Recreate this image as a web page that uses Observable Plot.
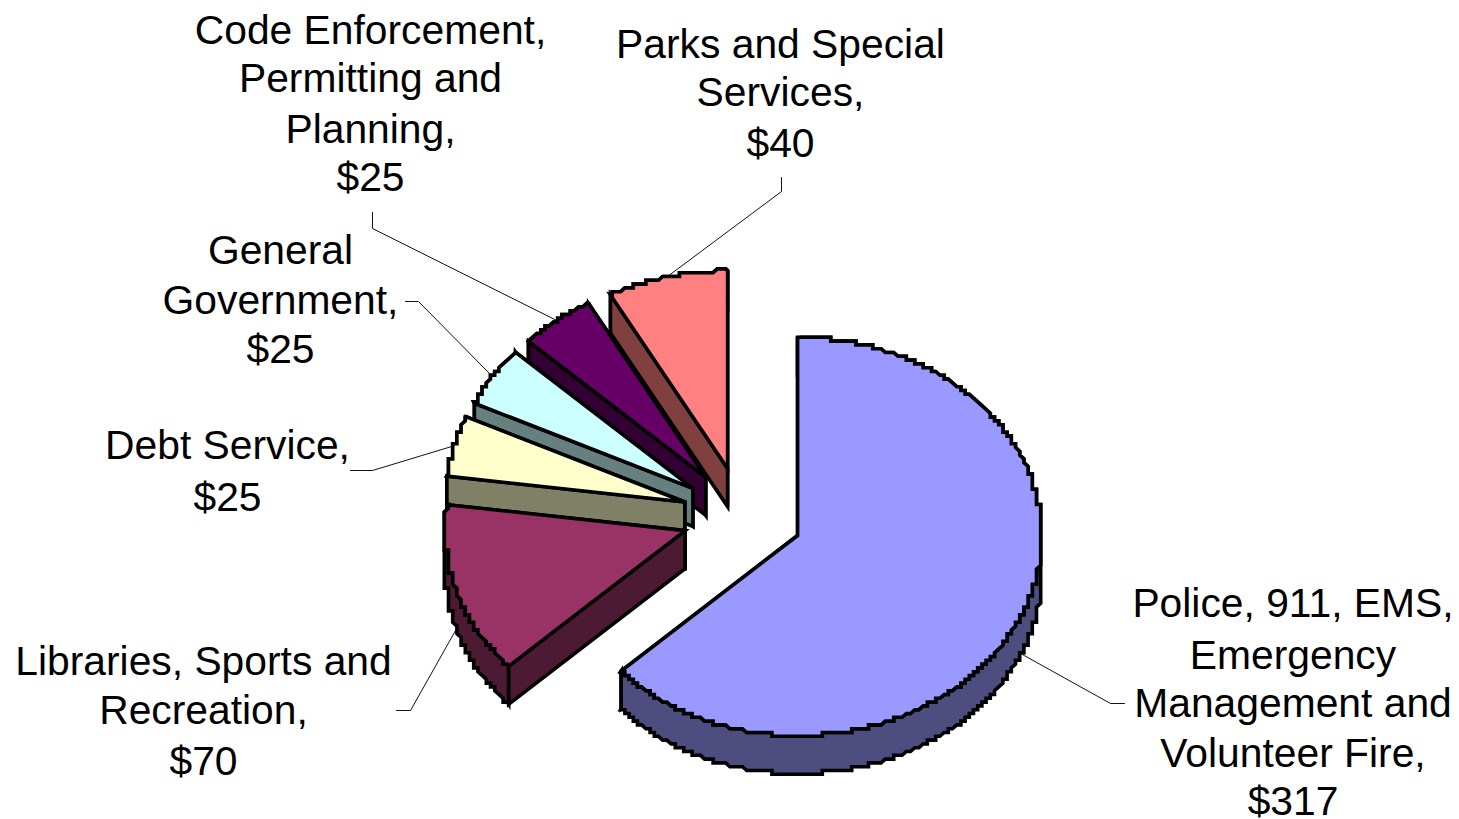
<!DOCTYPE html>
<html>
<head>
<meta charset="utf-8">
<title>Budget by service</title>
<script src="https://cdn.jsdelivr.net/npm/d3@7"></script>
<script src="https://cdn.jsdelivr.net/npm/@observablehq/plot@0.6"></script>
<style>
  html, body { margin: 0; padding: 0; background: #fff; }
  svg { display: block; }
</style>
</head>
<body>
<div id="chart"></div>
<script>
// Budget amounts, clockwise from twelve o'clock.
const categories = [
  "Police, 911, EMS, Emergency Management and Volunteer Fire",
  "Libraries, Sports and Recreation",
  "Debt Service",
  "General Government",
  "Code Enforcement, Permitting and Planning",
  "Parks and Special Services"
];
const values = [317, 70, 25, 25, 25, 40];
const labelLines = [
  ["Police, 911, EMS,", "Emergency", "Management and", "Volunteer Fire,"],
  ["Libraries, Sports and", "Recreation,"],
  ["Debt Service,"],
  ["General", "Government,"],
  ["Code Enforcement,", "Permitting and", "Planning,"],
  ["Parks and Special", "Services,"]
];
const topColors = ["#9999ff", "#993366", "#ffffcc", "#ccffff", "#660066", "#ff8080"];
const sideColors = ["#4d4d80", "#4d1a33", "#808066", "#668080", "#330033", "#804040"];

// Pie geometry, in units of the pie radius. The tilted view makes the near
// half of the ellipse a little taller and its lower left a little narrower.
const WIDTH = 1459, HEIGHT = 819;
const RX = 244, RY = 198, CX = 742, CY = 515.4;
const LEFT_SCALE = 240 / 244, FRONT_SCALE = 200 / 198;
const EXPLODE = 0.2465, DEPTH = 0.192;
const SNAP_X = 4.2 / RX, SNAP_Y = 3.8 / RY;

// Pixel placement helpers for the text layout.
const ux = (px) => (px - CX) / RX;
const uy = (py) => (CY - py) / RY;

// Unit-circle point at a clockwise angle from twelve o'clock.
function circleX(a) {
  const s = Math.sin(a);
  if (s >= 0) return s;
  const blend = Math.min(1, Math.max(0, (0.68 - Math.cos(a)) / 0.5));
  return s * (1 + (LEFT_SCALE - 1) * blend);
}
const circleY = (a) => Math.cos(a) * (Math.cos(a) < 0 ? FRONT_SCALE : 1);

// Label block layout: centre x, line baselines, and leader start/elbow.
const labelLayout = [
  {cx: 1292.5, base: [616, 668, 716, 766, 814], lead: [[1124, 703], [1110, 703]]},
  {cx: 203, base: [674, 723, 774], lead: [[396, 710], [410, 710]]},
  {cx: 227, base: [458, 510], lead: [[350, 470], [372, 470]]},
  {cx: 280, base: [263, 313, 362], lead: [[405, 301], [418, 301]]},
  {cx: 370, base: [43, 91, 142, 190], lead: [[372, 212], [372, 228]]},
  {cx: 780, base: [57, 105, 156], lead: [[781, 177], [781, 191]]}
];

const total = d3.sum(values);
let cumulative = 0;
const slices = values.map((v, i) => {
  const start = cumulative / total * 2 * Math.PI;
  cumulative += v;
  const end = cumulative / total * 2 * Math.PI;
  const mid = (start + end) / 2;
  return {
    i, start, end, mid,
    tipX: EXPLODE * Math.sin(mid),
    tipY: EXPLODE * Math.cos(mid)
  };
});

// Rim of one slice; the low-resolution staircase of the outline comes from the snapping.
function rim(s, drop = 0) {
  const n = Math.ceil((s.end - s.start) / (0.5 * Math.PI / 180));
  const pts = [];
  for (let k = 0; k <= n; k++) {
    const a = s.start + (s.end - s.start) * k / n;
    let x = s.tipX + circleX(a);
    let y = s.tipY + circleY(a);
    if (k > 0 && k < n) {
      x = Math.round(x / SNAP_X) * SNAP_X;
      y = Math.round(y / SNAP_Y) * SNAP_Y;
    }
    pts.push([x, y - drop]);
  }
  return pts;
}

function wall(s, angle) {
  const ex = s.tipX + circleX(angle), ey = s.tipY + circleY(angle);
  return [[s.tipX, s.tipY], [ex, ey], [ex, ey - DEPTH], [s.tipX, s.tipY - DEPTH]];
}

// Faces painted from the back of the pie to the front.
const faces = [];
function addFace(id, color, pts) {
  pts.forEach(([x, y]) => faces.push({id, color, x, y}));
}
[5, 4, 3, 2, 1, 0].forEach((i) => {
  const s = slices[i];
  addFace(`end-${i}`, sideColors[i], wall(s, s.end));
  addFace(`rim-${i}`, sideColors[i], [...rim(s), ...rim(s, DEPTH).reverse()]);
  addFace(`start-${i}`, sideColors[i], wall(s, s.start));
  addFace(`top-${i}`, topColors[i], [[s.tipX, s.tipY], ...rim(s)]);
});

// Leader lines end on the outer rim at the middle of each slice.
const leaders = [];
slices.forEach((s, i) => {
  const x = s.tipX + circleX(s.mid);
  const front = Math.cos(s.mid) < 0;
  const y = s.tipY + circleY(s.mid) - (front ? DEPTH : 0);
  const [a, b] = labelLayout[i].lead;
  leaders.push({id: i, x: ux(a[0]), y: uy(a[1])}, {id: i, x: ux(b[0]), y: uy(b[1])}, {id: i, x, y});
});

// One text row per label line, with the dollar amount on the last row.
const textRows = [];
slices.forEach((s, i) => {
  const rows = [...labelLines[i], `$${values[i]}`];
  rows.forEach((text, k) => {
    textRows.push({text, x: ux(labelLayout[i].cx), y: uy(labelLayout[i].base[k])});
  });
});

const chart = Plot.plot({
  width: WIDTH,
  height: HEIGHT,
  margin: 0,
  style: {background: "#fff", overflow: "hidden"},
  x: {domain: [ux(0), ux(WIDTH)], range: [0, WIDTH], axis: null},
  y: {domain: [uy(0), uy(HEIGHT)], range: [0, HEIGHT], axis: null},
  marks: [
    Plot.line(leaders, {x: "x", y: "y", z: "id", stroke: "#111", strokeWidth: 1}),
    Plot.line(faces, {
      x: "x", y: "y", z: "id",
      fill: "color",
      stroke: "#000",
      strokeWidth: 3.6,
      strokeLinejoin: "miter",
      strokeMiterlimit: 4,
      curve: "linear-closed"
    }),
    Plot.text(textRows, {
      x: "x", y: "y", text: "text",
      textAnchor: "middle",
      lineAnchor: "bottom",
      fontFamily: "Liberation Sans",
      fontSize: 40.8,
      fill: "#000"
    })
  ]
});
document.getElementById("chart").appendChild(chart);
</script>
</body>
</html>
